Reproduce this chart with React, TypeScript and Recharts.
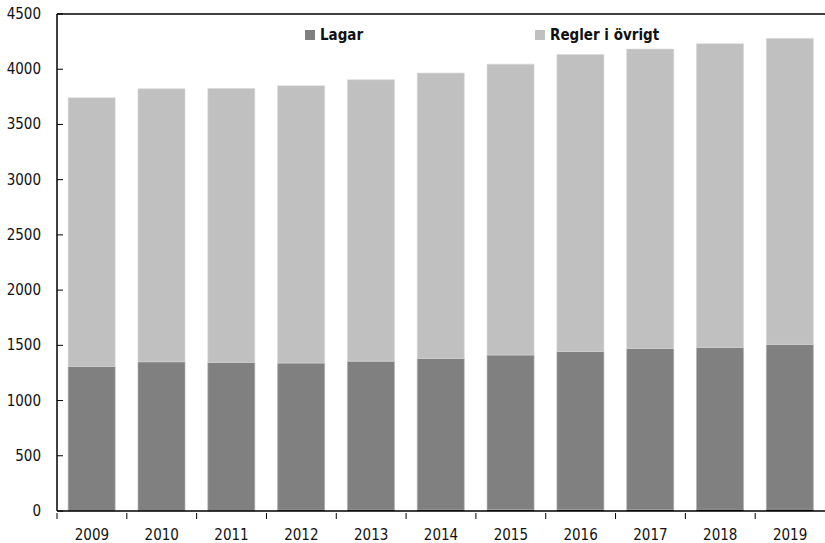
import { BarChart, Bar, XAxis, YAxis, ReferenceLine } from 'recharts'

const years = ['2009', '2010', '2011', '2012', '2013', '2014', '2015', '2016', '2017', '2018', '2019']
// thin dark strip at the base of the later bars
const ovrigt = [0, 0, 0, 8, 9, 10, 12, 13, 14, 15, 16]
const lagar = [1308, 1351, 1345, 1331, 1348, 1371, 1400, 1431, 1457, 1466, 1492]
const reglerOvrigt = [2434, 2472, 2481, 2511, 2548, 2584, 2634, 2690, 2711, 2750, 2771]
const yTicks = [0, 500, 1000, 1500, 2000, 2500, 3000, 3500, 4000, 4500]
const seriesNames = ['Lagar', 'Regler i övrigt']
const seriesColors = ['#808080', '#c0c0c0']

const data = years.map((year, i) => ({
  year,
  ovrigt: ovrigt[i],
  lagar: lagar[i],
  regler: reglerOvrigt[i],
}))

const FONT = '"DejaVu Sans Condensed", "Liberation Sans Narrow", sans-serif'
const W = 825
const H = 543
const LEFT = 57
const HALF_BAND = (W - LEFT) / years.length / 2

function YTick(props: any) {
  const { x, y, payload } = props
  return (
    <g>
      <line x1={x} x2={x + 6} y1={y} y2={y} stroke="#000" strokeWidth={1} />
      <text x={x - 16} y={y} dy={5} textAnchor="end" fontFamily={FONT} fontSize={15} fill="#111">
        {payload.value}
      </text>
    </g>
  )
}

function XTick(props: any) {
  const { x, y, payload } = props
  const tx = x - HALF_BAND
  return (
    <g>
      <line x1={tx} x2={tx} y1={y} y2={y + 6} stroke="#000" strokeWidth={1} />
      <text x={x} y={y + 27} textAnchor="middle" fontFamily={FONT} fontSize={15} fill="#111">
        {payload.value}
      </text>
    </g>
  )
}

function LegendOverlay() {
  const lefts = [305, 535]
  return (
    <>
      {seriesNames.map((name, i) => (
        <div
          key={name}
          style={{ position: 'absolute', left: lefts[i], top: 26, display: 'flex', alignItems: 'center' }}
        >
          <span style={{ width: 10, height: 10, background: seriesColors[i], display: 'inline-block', marginRight: 5 }} />
          <span style={{ fontFamily: FONT, fontWeight: 'bold', fontSize: 15, color: '#111', lineHeight: '18px' }}>
            {name}
          </span>
        </div>
      ))}
    </>
  )
}

export default function App() {
  return (
    <div style={{ position: 'absolute', left: 0, top: 0, width: W, height: H, background: '#fff' }}>
      <BarChart
        width={W}
        height={H}
        data={data}
        margin={{ top: 14, right: 0, left: 0, bottom: 0 }}
        barCategoryGap="16%"
      >
        <XAxis
          dataKey="year"
          height={32}
          tickLine={false}
          tickSize={0}
          tick={<XTick />}
          axisLine={{ stroke: '#000', strokeWidth: 1.5 }}
          interval={0}
        />
        <YAxis
          width={LEFT}
          domain={[0, 4500]}
          ticks={yTicks}
          tickLine={false}
          tickSize={0}
          tickMargin={0}
          tick={<YTick />}
          axisLine={{ stroke: '#000', strokeWidth: 1.5 }}
          interval={0}
        />
        <ReferenceLine y={4500} stroke="#000" strokeWidth={1.5} />
        <Bar dataKey="ovrigt" stackId="a" fill="#1a1a1a" isAnimationActive={false} />
        <Bar dataKey="lagar" stackId="a" fill={seriesColors[0]} stroke="#b0b0b0" strokeWidth={0.6} isAnimationActive={false} />
        <Bar dataKey="regler" stackId="a" fill={seriesColors[1]} stroke="#d6d6d6" strokeWidth={0.6} isAnimationActive={false} />
      </BarChart>
      <LegendOverlay />
    </div>
  )
}
